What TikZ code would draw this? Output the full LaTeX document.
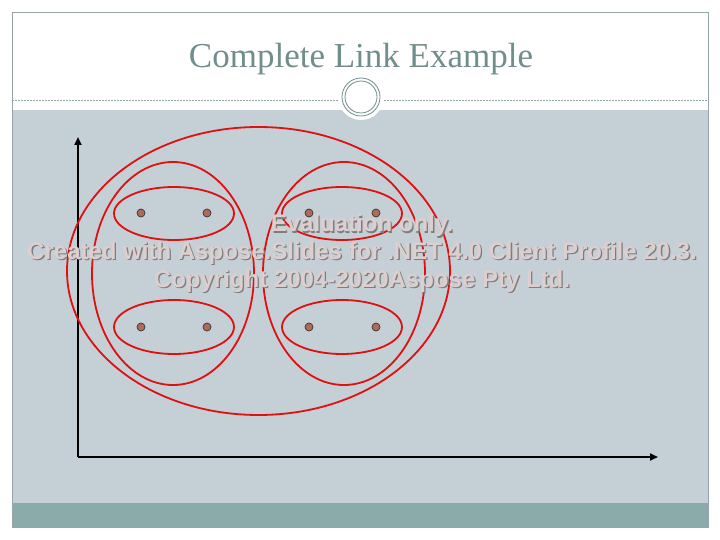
\documentclass[tikz,border=0pt]{standalone}
\usepackage{fontspec}
\setmainfont{Liberation Serif}
\newfontfamily\wmfont{Liberation Sans}
\usetikzlibrary{arrows.meta}
\definecolor{slidegray}{RGB}{197,207,214}
\definecolor{bandteal}{RGB}{139,171,171}
\definecolor{titleteal}{RGB}{112,142,140}
\definecolor{framegray}{RGB}{150,166,166}
\definecolor{ptfill}{RGB}{178,106,88}
\definecolor{clusred}{RGB}{222,16,16}
\definecolor{wmtext}{RGB}{222,206,206}
\definecolor{wmshadow}{RGB}{125,125,125}

\begin{document}
\begin{tikzpicture}[x=1pt, y=-1pt,
    clus/.style={draw=clusred, line width=1.8pt},
    pt/.style={circle, draw=black!80, fill=ptfill, inner sep=0pt, minimum size=8pt, line width=0.7pt},
    axis/.style={line width=2.4pt, -{Triangle[length=8pt,width=7pt]}},
    wm/.style={font=\wmfont\bfseries\fontsize{24}{27}\selectfont, anchor=base, inner sep=0pt}
]
\useasboundingbox (0,0) rectangle (720,540);
\fill[white] (0,0) rectangle (720,540);

% slide background
\fill[slidegray] (12,110) rectangle (708,503);
\fill[bandteal] (12,503) rectangle (708,527);
\draw[framegray, line width=0.8pt] (12,12) rectangle (708,527);

% title and ornament
\node[anchor=base, text=titleteal, font=\fontsize{35}{40}\selectfont] (title) at (361,68) {Complete Link Example};
\draw[framegray, dash pattern=on 2pt off 1pt, line width=0.6pt] (12,100) -- (708,100);
\fill[white] (361,97) circle[radius=23pt];
\draw[titleteal, line width=0.8pt] (361,97) circle[radius=19pt];
\draw[titleteal, line width=0.8pt] (361,97) circle[radius=16pt];

% axes
\coordinate (o) at (78,457);
\coordinate (ytop) at (78,137);
\coordinate (xend) at (658,457);
\draw[axis] (o) -- (ytop);
\draw[axis] (o) -- (xend);

% points
\foreach \i/\px/\py in {1/141/213, 2/207/213, 3/309/213, 4/376/213,
                        5/141/327, 6/207/327, 7/309/327, 8/376/327}
  \node[pt] (p\i) at (\px,\py) {};

% clusters
\draw[clus] (258.5,271) ellipse[x radius=191.5pt, y radius=144pt];
\draw[clus] (173,273.5) ellipse[x radius=81pt, y radius=111.5pt];
\draw[clus] (344,273.5) ellipse[x radius=81pt, y radius=111.5pt];
\draw[clus] (174,213.5) ellipse[x radius=60pt, y radius=26.5pt];
\draw[clus] (174,327) ellipse[x radius=60pt, y radius=27pt];
\draw[clus] (342,213.5) ellipse[x radius=60pt, y radius=26.5pt];
\draw[clus] (342,327) ellipse[x radius=60pt, y radius=27pt];

% watermark
\foreach \i/\yy/\txt in {1/232/Evaluation only.,
    2/259.5/Created with Aspose.Slides for .NET 4.0 Client Profile 20.3.,
    3/287/Copyright 2004-2020Aspose Pty Ltd.}
{
  \node[wm, text=wmshadow] (wms\i) at (363.3,\yy+1.3) {\txt};
  \node[wm, text=wmtext] (wm\i) at (362,\yy) {\txt};
}
\end{tikzpicture}
\end{document}
